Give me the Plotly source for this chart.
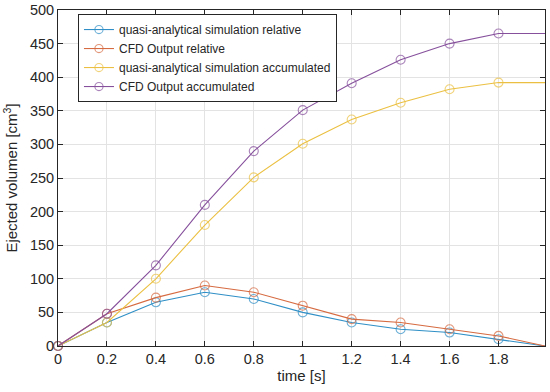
import plotly.graph_objects as go

time_s = [0, 0.2, 0.4, 0.6, 0.8, 1.0, 1.2, 1.4, 1.6, 1.8, 1.99]
quasi_relative = [0, 35, 65, 80, 70, 50, 35, 25, 20, 10, 0]
cfd_relative = [0, 48, 72, 90, 80, 60, 40, 35, 25, 15, 0]
quasi_accumulated = [0, 35, 100, 180, 251, 301, 337, 362, 382, 392, 392]
cfd_accumulated = [0, 48, 120, 210, 290, 351, 391, 426, 450, 465, 465]
x_ticks = [0, 0.2, 0.4, 0.6, 0.8, 1, 1.2, 1.4, 1.6, 1.8]
x_labels = ["0", "0.2", "0.4", "0.6", "0.8", "1", "1.2", "1.4", "1.6", "1.8"]

series = [
    ("quasi-analytical simulation relative", quasi_relative, "#2f8fc6"),
    ("CFD Output relative", cfd_relative, "#d66a40"),
    ("quasi-analytical simulation accumulated", quasi_accumulated, "#ebc042"),
    ("CFD Output accumulated", cfd_accumulated, "#86509c"),
]

fig = go.Figure()
sizes = [9] * (len(time_s) - 1) + [0]
for name, vals, col in series:
    fig.add_trace(go.Scatter(
        x=time_s, y=vals, name=name, mode="lines+markers",
        line=dict(color=col, width=1.1),
        marker=dict(symbol="circle-open", size=sizes, color=col, line=dict(width=1.1)),
        cliponaxis=False,
    ))

axis_common = dict(
    showline=True, linecolor="#262626", linewidth=1, mirror="ticks",
    ticks="inside", ticklen=5, tickcolor="#262626",
    showgrid=True, gridcolor="#e3e3e3", gridwidth=1, zeroline=False,
    automargin=False,
    tickfont=dict(family="Liberation Sans, Arial", size=14.5, color="#262626"),
)

fig.update_layout(
    width=550, height=392,
    margin=dict(l=58, r=5, t=10, b=46),
    paper_bgcolor="white", plot_bgcolor="white",
    font=dict(family="Liberation Sans, Arial", color="#262626"),
    xaxis=dict(range=[0, 1.99], tickvals=x_ticks, ticktext=x_labels,
               title=dict(text="time [s]", font=dict(size=15), standoff=4), **axis_common),
    yaxis=dict(range=[0, 500], dtick=50,
               title=dict(text="Ejected volumen [cm<sup>3</sup>]", font=dict(size=15), standoff=8),
               **axis_common),
    legend=dict(x=0.041, y=0.988, xanchor="left", yanchor="top",
                bgcolor="white", bordercolor="#262626", borderwidth=1,
                font=dict(size=12, color="#262626"), tracegroupgap=0, itemwidth=30),
    showlegend=True,
)

fig.write_html("out.html", config={"displayModeBar": False},
               post_script="document.body.style.margin='0';")
